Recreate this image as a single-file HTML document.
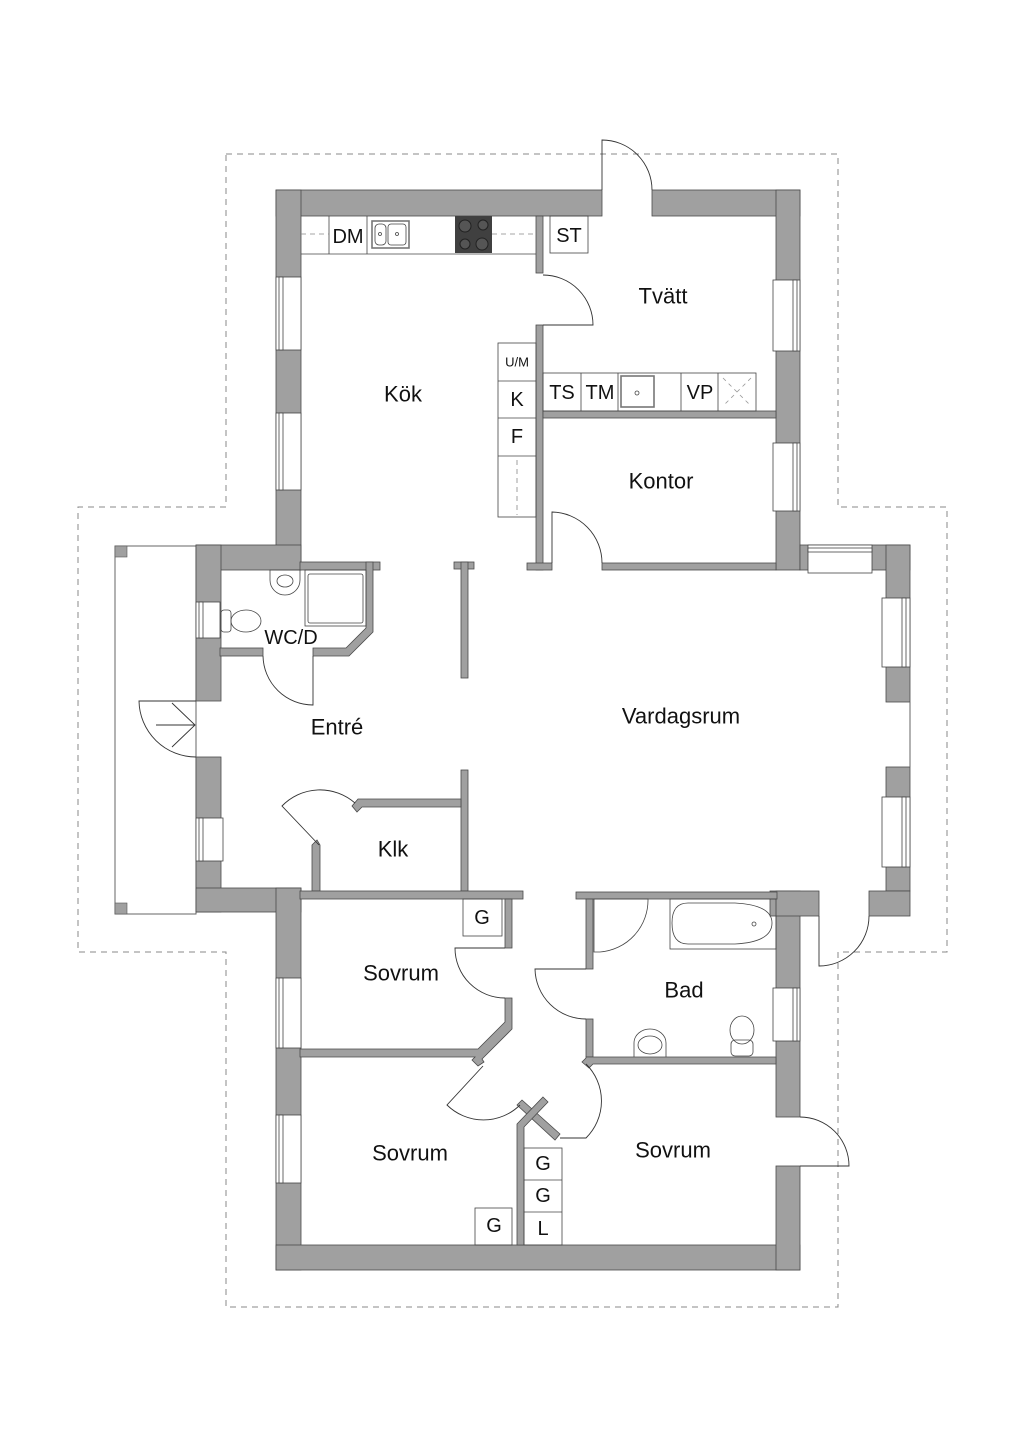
<!DOCTYPE html>
<html><head><meta charset="utf-8"><style>
html,body{margin:0;padding:0;background:#fff;}
svg{display:block;}
text{font-family:"Liberation Sans",sans-serif;fill:#111;text-anchor:middle;dominant-baseline:central;}
</style></head><body>
<svg width="1024" height="1448" viewBox="0 0 1024 1448" xmlns="http://www.w3.org/2000/svg">
<!-- dashed site outline -->
<polygon points="226,154 838,154 838,507 947,507 947,952 838,952 838,1307 226,1307 226,952 78,952 78,507 226,507" fill="none" stroke="#888" stroke-width="1" stroke-dasharray="6,5"/>
<!-- porch -->
<rect x="115" y="546" width="81" height="368" fill="none" stroke="#666" stroke-width="1"/>
<rect x="115" y="546" width="12" height="11" fill="#a0a0a0" stroke="#555" stroke-width="0.6"/>
<rect x="115" y="903" width="12" height="11" fill="#a0a0a0" stroke="#555" stroke-width="0.6"/>

<g fill="#a0a0a0" stroke="#4a4a4a" stroke-width="0.8">
<!-- outer thick walls -->
<rect x="276" y="190" width="326" height="26"/>
<rect x="652" y="190" width="148" height="26"/>
<rect x="276" y="190" width="25" height="380"/>
<rect x="776" y="190" width="24" height="380"/>
<rect x="196" y="545" width="105" height="25"/>
<rect x="196" y="545" width="25" height="156"/>
<rect x="196" y="757" width="25" height="155"/>
<rect x="196" y="888" width="105" height="24"/>
<rect x="276" y="888" width="25" height="382"/>
<rect x="276" y="1245" width="524" height="25"/>
<rect x="776" y="891" width="24" height="226"/>
<rect x="776" y="1166" width="24" height="104"/>
<rect x="770" y="891" width="49" height="25"/>
<rect x="800" y="545" width="110" height="25"/>
<rect x="886" y="545" width="24" height="157"/>
<rect x="886" y="767" width="24" height="124"/>
<rect x="869" y="891" width="41" height="25"/>
<!-- interior thin walls -->
<rect x="536" y="216" width="7" height="57"/>
<rect x="536" y="325" width="7" height="245"/>
<rect x="527" y="563" width="25" height="7"/>
<rect x="543" y="411" width="233" height="7"/>
<rect x="602" y="563" width="174" height="7"/>
<rect x="300" y="562" width="80" height="8"/>
<polygon points="366,562 373,562 373,632 349,656 313,656 313,648 346,648 366,628"/>
<rect x="220" y="648" width="43" height="8"/>
<rect x="454" y="562" width="20" height="7"/>
<rect x="461" y="562" width="7" height="116"/>
<rect x="461" y="770" width="7" height="121"/>
<polygon points="358,799 461,799 461,807 362,807 357,812 352,806"/>
<polygon points="312,845 317,840 320,845 320,891 312,891"/>
<rect x="300" y="891" width="223" height="8"/>
<rect x="505" y="899" width="7" height="49"/>
<polygon points="505,998 512,998 512,1029 482,1059 484,1062 478,1066 472,1060 475,1057 300,1057 300,1049 478,1049 505,1022"/>
<rect x="576" y="892" width="201" height="7"/>
<rect x="586" y="899" width="7" height="70"/>
<rect x="586" y="1019" width="7" height="38"/>
<polygon points="586,1057 776,1057 776,1064 593,1064 589,1068 582,1062 586,1058"/>
<polygon points="517,1105 522,1100 560,1134 555,1140"/>
<polygon points="543,1097 548,1102 524,1127 524,1245 517,1245 517,1124"/>
</g>

<!-- windows -->
<g fill="#fff" stroke="#444" stroke-width="0.8">
<rect x="276" y="277" width="25" height="73"/><rect x="279" y="277" width="4" height="73"/>
<rect x="276" y="413" width="25" height="77"/><rect x="279" y="413" width="4" height="77"/>
<rect x="773" y="280" width="27" height="71"/><rect x="793" y="280" width="4" height="71"/>
<rect x="773" y="443" width="27" height="68"/><rect x="793" y="443" width="4" height="68"/>
<rect x="808" y="545" width="64" height="28"/><rect x="808" y="548" width="64" height="4"/>
<rect x="882" y="598" width="28" height="69"/><rect x="902" y="598" width="4" height="69"/>
<rect x="882" y="797" width="28" height="70"/><rect x="902" y="797" width="4" height="70"/>
<rect x="196" y="602" width="24" height="36"/><rect x="199" y="602" width="4" height="36"/>
<rect x="196" y="818" width="27" height="43"/><rect x="199" y="818" width="4" height="43"/>
<rect x="276" y="978" width="25" height="70"/><rect x="279" y="978" width="4" height="70"/>
<rect x="276" y="1115" width="25" height="68"/><rect x="279" y="1115" width="4" height="68"/>
<rect x="773" y="988" width="27" height="53"/><rect x="793" y="988" width="4" height="53"/>
</g>
<line x1="910" y1="702" x2="910" y2="767" stroke="#666" stroke-width="1"/>

<!-- doors -->
<g fill="none" stroke="#333" stroke-width="0.9">
<path d="M602,190 L602,140 A50,50 0 0 1 652,190"/>
<path d="M543,325 L593,325 A50,50 0 0 0 543,275"/>
<path d="M552,563 L552,512 A51,51 0 0 1 602,563"/>
<path d="M313,656 L313,705 A50,50 0 0 1 263,656"/>
<path d="M196,701 L139,701 A57,57 0 0 0 196,757"/>
<path d="M319,845 L282,806 A53,53 0 0 1 355,803"/>
<path d="M505,948 L455,948 A50,50 0 0 0 505,998"/>
<path d="M586,969 L535,969 A51,51 0 0 0 586,1019"/>
<path d="M483,1066 L447,1105 A52,52 0 0 0 520,1105"/>
<path d="M586,1064 A52,52 0 0 1 586,1138 L560,1138"/>
<path d="M819,916 L819,966 A50,50 0 0 0 869,916"/>
<path d="M800,1166 L849,1166 A49,49 0 0 0 800,1117"/>
<line x1="156" y1="725" x2="195" y2="725"/>
<polyline points="172,703 195,725 172,747"/>
</g>

<!-- kitchen fixtures -->
<g fill="none" stroke="#444" stroke-width="0.8">
<line x1="301" y1="254" x2="536" y2="254"/>
<line x1="329" y1="216" x2="329" y2="254"/>
<line x1="367" y1="216" x2="367" y2="254"/>
<line x1="301" y1="234" x2="329" y2="234" stroke-dasharray="5,4" stroke="#888"/>
<line x1="492" y1="234" x2="536" y2="234" stroke-dasharray="5,4" stroke="#888"/>
<rect x="372" y="221" width="37" height="27" stroke-width="1.6" stroke="#777"/>
<rect x="375" y="224" width="11" height="21" rx="4"/>
<rect x="388" y="224" width="18" height="21" rx="3"/>
<circle cx="380" cy="234" r="1.5"/><circle cx="397" cy="234" r="1.5"/>
<rect x="550" y="216" width="38" height="37"/>
<rect x="498" y="343" width="38" height="174"/>
<line x1="498" y1="381" x2="536" y2="381"/><line x1="498" y1="418" x2="536" y2="418"/><line x1="498" y1="456" x2="536" y2="456"/>
<line x1="517" y1="460" x2="517" y2="515" stroke-dasharray="5,4" stroke="#888"/>
<rect x="543" y="373" width="213" height="38"/>
<line x1="581" y1="373" x2="581" y2="411"/><line x1="618" y1="373" x2="618" y2="411"/>
<line x1="681" y1="373" x2="681" y2="411"/><line x1="718" y1="373" x2="718" y2="411"/>
<rect x="621" y="376" width="33" height="31" stroke-width="1.6" stroke="#777"/>
<circle cx="637" cy="393" r="2"/>
<path d="M723,378 L751,406 M751,378 L723,406" stroke-dasharray="4,4" stroke="#999"/>
<!-- WC -->
<path d="M270,570 L300,570 L300,580 A15,15 0 0 1 270,580 Z"/>
<ellipse cx="285" cy="581" rx="8" ry="6"/>
<rect x="305" y="570" width="61" height="56"/>
<rect x="308" y="574" width="55" height="49" rx="2"/>
<ellipse cx="246" cy="621" rx="15" ry="11"/>
<rect x="221" y="610" width="10" height="22" rx="3"/>
<!-- bedroom storage -->
<rect x="463" y="899" width="39" height="37"/>
<rect x="475" y="1208" width="37" height="37"/>
<rect x="524" y="1148" width="38" height="97"/>
<line x1="524" y1="1180" x2="562" y2="1180"/><line x1="524" y1="1212" x2="562" y2="1212"/>
<!-- bath -->
<path d="M594,899 L594,952 L600,952 A52,52 0 0 0 648,899 Z"/>
<rect x="670" y="899" width="106" height="50"/>
<path d="M688,903 L735,903 Q772,905 772,923 Q772,942 735,944 L688,944 Q672,944 672,923 Q672,903 688,903 Z"/>
<circle cx="754" cy="924" r="2"/>
<path d="M634,1057 L634,1043 A16,14 0 0 1 666,1043 L666,1057"/>
<ellipse cx="650" cy="1045" rx="12" ry="9"/>
<ellipse cx="742" cy="1030" rx="12" ry="14"/>
<rect x="731" y="1040" width="22" height="16" rx="4"/>
</g>
<rect x="455" y="216" width="37" height="37" fill="#404040"/>
<g fill="#555" stroke="#222" stroke-width="1">
<circle cx="465" cy="226" r="6"/><circle cx="483" cy="225" r="5"/><circle cx="465" cy="244" r="5"/><circle cx="482" cy="244" r="6"/>
</g>

<!-- labels -->
<g font-size="22">
<text x="403" y="394">Kök</text>
<text x="663" y="296">Tvätt</text>
<text x="661" y="481">Kontor</text>
<text x="681" y="716">Vardagsrum</text>
<text x="337" y="727">Entré</text>
<text x="393" y="849">Klk</text>
<text x="401" y="973">Sovrum</text>
<text x="684" y="990">Bad</text>
<text x="410" y="1153">Sovrum</text>
<text x="673" y="1150">Sovrum</text>
</g>
<g font-size="20">
<text x="291" y="638">WC/D</text>
<text x="348" y="237">DM</text>
<text x="569" y="236">ST</text>
<text x="517" y="400">K</text>
<text x="517" y="437">F</text>
<text x="562" y="393">TS</text>
<text x="600" y="393">TM</text>
<text x="700" y="393">VP</text>
<text x="482" y="918">G</text>
<text x="543" y="1164">G</text>
<text x="543" y="1196">G</text>
<text x="543" y="1229">L</text>
<text x="494" y="1226">G</text>
</g>
<text x="517" y="362" font-size="13">U/M</text>
</svg>
</body></html>
